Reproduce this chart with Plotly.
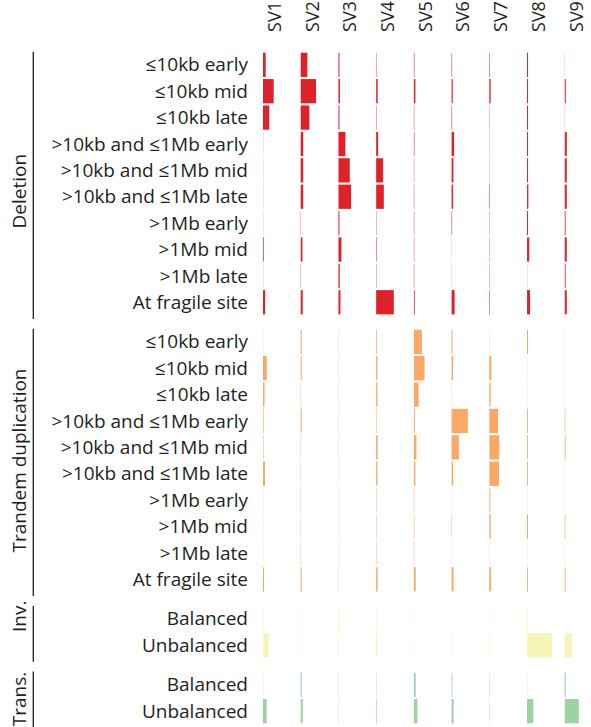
import plotly.graph_objects as go

signatures = ["SV1", "SV2", "SV3", "SV4", "SV5", "SV6", "SV7", "SV8", "SV9"]

size_rows = ["≤10kb early", "≤10kb mid", "≤10kb late",
             ">10kb and ≤1Mb early", ">10kb and ≤1Mb mid", ">10kb and ≤1Mb late",
             ">1Mb early", ">1Mb mid", ">1Mb late", "At fragile site"]
balance_rows = ["Balanced", "Unbalanced"]

groups = ["Deletion", "Trandem duplication", "Inv.", "Trans."]
group_rows = [size_rows, size_rows, balance_rows, balance_rows]
group_colors = ["222,33,40", "249,168,100", "246,246,184", "158,210,158"]

# contribution (%) of each feature to each signature, rows x SV1..SV9
deletion = [
    [4.3, 10.6, 1.6, 0.6, 0.8, 0.8, 0.8, 1.6, 0.2],
    [17.0, 24.3, 2.4, 2.4, 2.4, 1.9, 2.1, 1.6, 1.6],
    [10.0, 13.8, 1.6, 0.6, 0.6, 0.8, 0.4, 1.6, 0.2],
    [0.2, 4.0, 11.1, 3.2, 0.8, 4.0, 0.3, 1.6, 3.2],
    [0.2, 4.0, 18.0, 11.1, 0.5, 2.9, 0.3, 1.6, 3.2],
    [0.2, 4.0, 20.2, 12.2, 0.6, 2.4, 0.8, 2.1, 3.2],
    [0.2, 0.5, 1.6, 0.5, 0.6, 0.8, 0.5, 1.6, 1.3],
    [1.1, 2.7, 4.8, 0.8, 0.6, 0.2, 0.5, 3.5, 3.2],
    [0.2, 0.5, 2.1, 0.5, 0.6, 0.2, 0.5, 0.2, 1.3],
    [3.5, 3.2, 3.2, 28.1, 1.3, 4.8, 0.8, 4.8, 3.2],
]
tandem_dup = [
    [0.2, 1.6, 0.4, 1.1, 12.7, 1.6, 0.4, 1.6, 0.2],
    [5.9, 1.6, 0.4, 2.1, 17.0, 2.4, 3.2, 0.2, 0.2],
    [2.4, 0.5, 0.4, 2.1, 7.5, 0.3, 2.1, 0.2, 0.2],
    [1.0, 1.6, 0.4, 0.8, 1.6, 25.9, 13.8, 1.3, 1.0],
    [0.8, 0.5, 0.4, 2.4, 4.0, 11.6, 15.9, 1.3, 1.3],
    [3.2, 0.5, 0.3, 2.1, 2.4, 2.4, 15.4, 1.3, 0.2],
    [0.2, 0.5, 0.3, 0.6, 0.5, 0.2, 1.6, 0.2, 0.2],
    [0.2, 0.5, 0.3, 0.6, 0.8, 0.6, 2.4, 1.6, 1.0],
    [0.2, 0.5, 0.3, 0.6, 0.5, 0.2, 0.3, 0.2, 0.2],
    [1.6, 1.6, 0.4, 2.4, 2.9, 3.2, 2.9, 1.4, 1.3],
]
inversion = [
    [0.8, 0.8, 1.6, 0.6, 0.5, 0.3, 0.5, 1.3, 0.2],
    [9.1, 0.8, 0.8, 2.1, 0.5, 1.0, 1.6, 39.7, 11.6],
]
translocation = [
    [0.2, 1.6, 0.5, 0.5, 2.9, 1.3, 0.5, 0.2, 1.6],
    [5.9, 3.2, 0.5, 1.0, 5.6, 3.2, 0.5, 10.0, 22.3],
]
group_values = [deletion, tandem_dup, inversion, translocation]

# ---- layout constants ----
W, H = 591, 727
L, T = 263, 49
COL_PX = 37.72          # pixel spacing between signature columns
SPACING = 60.0          # value units between column baselines
PX_PER_UNIT = COL_PX / SPACING
XMAX = (W - L) / PX_PER_UNIT
FONT = "Open Sans"
TXT = "#231f20"

# y positions of rows (gap between groups)
ypos, ylab, ycol, gspan = [], [], [], []
y = 0.0
for g, rows, col in zip(groups, group_rows, group_colors):
    start = y
    for r in rows:
        ypos.append(y)
        ylab.append(r)
        ycol.append(f"rgba({col},0.995)")
        y += 1
    gspan.append((start, y - 1))
    y += 0.5

fig = go.Figure()
for k, sv in enumerate(signatures):
    vals = []
    for gv in group_values:
        for row in gv:
            vals.append(row[k])
    fig.add_trace(go.Bar(
        orientation="h", y=ypos, x=vals, base=k * SPACING, width=0.92,
        marker=dict(color=ycol, line=dict(width=0)),
        showlegend=False, hoverinfo="skip",
    ))

shapes, annotations = [], []
title_y = [4.8, 15.0, 20.93, 24.05]
for (s, e), g, ty in zip(gspan, groups, title_y):
    shapes.append(dict(type="line", xref="paper", yref="y",
                       x0=(33.3 - L) / (W - L), x1=(33.3 - L) / (W - L),
                       y0=s - 0.5, y1=e + 0.63,
                       line=dict(color=TXT, width=1.3)))
    annotations.append(dict(text=g, xref="paper", yref="y",
                            x=(19 - L) / (W - L), y=ty, textangle=-90,
                            showarrow=False, xanchor="center", yanchor="middle",
                            font=dict(family=FONT, size=19, color=TXT)))

fig.update_layout(
    width=W, height=H,
    margin=dict(l=L, r=0, t=T, b=0, pad=0, autoexpand=False),
    paper_bgcolor="white", plot_bgcolor="white",
    barmode="overlay", bargap=0.08,
    shapes=shapes, annotations=annotations,
    xaxis=dict(range=[0, XMAX], side="top", automargin=False,
               tickvals=[k * SPACING + 12 / PX_PER_UNIT for k in range(len(signatures))],
               ticktext=signatures, tickangle=-90, ticks="",
               ticklabelstandoff=16,
               showgrid=False, zeroline=False, showline=False,
               tickfont=dict(family=FONT, size=18, color=TXT)),
    yaxis=dict(range=[25.1, -0.6], tickvals=ypos, ticktext=ylab, ticks="",
               showgrid=False, zeroline=False, showline=False, automargin=False,
               ticklabelstandoff=14,
               tickfont=dict(family=FONT, size=19, color=TXT)),
)

fig.write_html("out.html")
